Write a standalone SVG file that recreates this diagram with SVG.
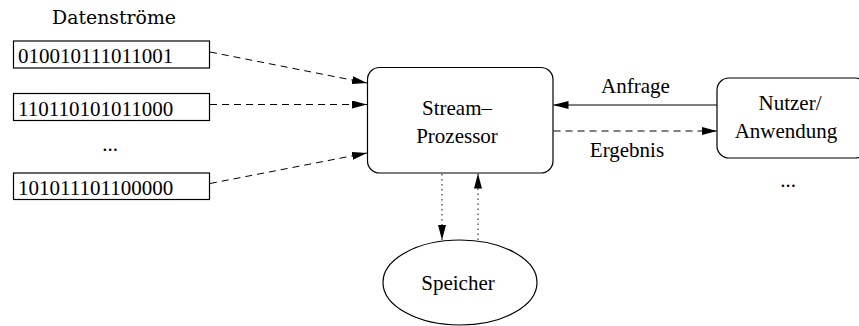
<svg xmlns="http://www.w3.org/2000/svg" width="859" height="326" viewBox="0 0 859 326">
  <style>
    .box { fill: #fff; stroke: #000; stroke-width: 1.2; }
    .txt { font-family: "Liberation Serif", "Times New Roman", serif; font-size: 21px; fill: #000; }
    .mid { text-anchor: middle; }
    .head { font-family: "DejaVu Serif", "Liberation Serif", serif; font-size: 18px; }
    .solid { stroke: #000; stroke-width: 1; fill: none; }
    .dash { stroke: #000; stroke-width: 1; fill: none; stroke-dasharray: 7 5; }
    .dot { stroke: #333; stroke-width: 1.2; fill: none; stroke-dasharray: 1.5 3.5; }
  </style>
  <defs>
    <marker id="head" markerUnits="userSpaceOnUse" markerWidth="15" markerHeight="8" refX="15" refY="4" orient="auto">
      <path d="M0,0 L15,4 L0,8 z" fill="#000"/>
    </marker>
  </defs>

  <rect width="859" height="326" fill="#fff"/>

  <!-- input data streams -->
  <g id="label-streams">
    <text class="txt mid head" x="114" y="24" textLength="124" lengthAdjust="spacingAndGlyphs">Datenströme</text>
  </g>
  <g id="stream1">
    <rect class="box" x="13.5" y="41" width="196" height="27"/>
    <text class="txt" x="18" y="63">010010111011001</text>
  </g>
  <g id="stream2">
    <rect class="box" x="13.5" y="93.5" width="196" height="27"/>
    <text class="txt" x="18" y="115.5">110110101011000</text>
  </g>
  <g id="stream-more">
    <text class="txt mid" x="110" y="151">...</text>
  </g>
  <g id="stream3">
    <rect class="box" x="13.5" y="173" width="196" height="26.5"/>
    <text class="txt" x="18" y="195">101011101100000</text>
  </g>

  <!-- processor -->
  <g id="processor">
    <rect class="box" x="367.5" y="67.5" width="185.5" height="105.5" rx="12" ry="12"/>
    <text class="txt mid" x="457" y="115">Stream–</text>
    <text class="txt mid" x="457" y="143">Prozessor</text>
  </g>

  <!-- user / application -->
  <g id="user">
    <rect class="box" x="717" y="78" width="150" height="80" rx="12" ry="12"/>
    <text class="txt mid" x="790" y="110">Nutzer/</text>
    <text class="txt mid" x="786" y="138">Anwendung</text>
    <text class="txt mid" x="788" y="187">...</text>
  </g>

  <!-- storage -->
  <g id="storage">
    <ellipse class="box" cx="460" cy="282.5" rx="77" ry="42.5"/>
    <text class="txt mid" x="458" y="290">Speicher</text>
  </g>

  <!-- connectors -->
  <g id="connectors">
    <line class="dash" x1="210" y1="52" x2="367" y2="83" marker-end="url(#head)"/>
    <line class="dash" x1="210" y1="104.5" x2="367" y2="104.5" marker-end="url(#head)"/>
    <line class="dash" x1="210" y1="183.5" x2="367" y2="153" marker-end="url(#head)"/>
    <line class="solid" x1="717" y1="105" x2="553.5" y2="105" marker-end="url(#head)"/>
    <line class="dash" x1="553.5" y1="131" x2="717" y2="131" marker-end="url(#head)"/>
    <line class="dot" x1="442" y1="174" x2="442" y2="240" marker-end="url(#head)"/>
    <line class="dot" x1="478" y1="240" x2="478" y2="173.5" marker-end="url(#head)"/>
    <text class="txt mid" x="635.5" y="93">Anfrage</text>
    <text class="txt mid" x="627" y="157">Ergebnis</text>
  </g>
</svg>
